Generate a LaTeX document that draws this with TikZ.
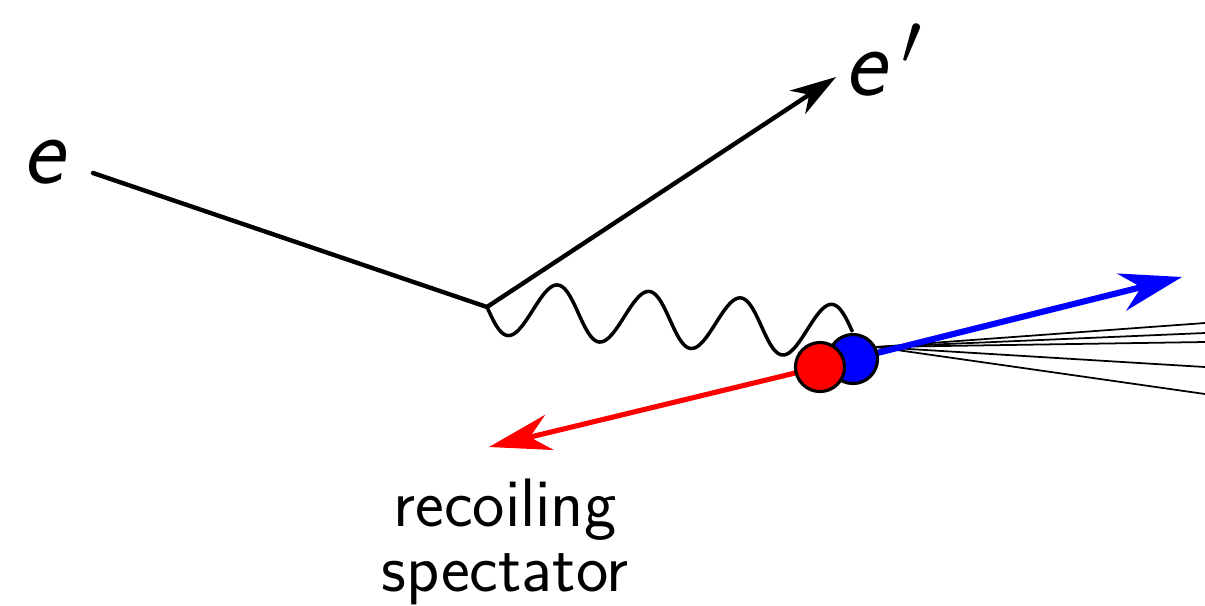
\documentclass[tikz,border=0pt]{standalone}
\usepackage{tikz}
\usetikzlibrary{arrows.meta,calc}

\begin{document}
\begin{tikzpicture}[x=0.01cm,y=-0.01cm,
    lepton/.style={line width=1.25pt},
    tip/.style={-{Stealth[length=#1,inset=0.14cm,width=0.28cm]}},
    nucleon/.style={circle,draw=black,line width=0.9pt,minimum size=0.49cm,inner sep=0pt},
    jet/.style={line width=0.5pt},
    photon/.style={line width=1pt},
    lbl/.style={font=\sffamily\itshape\fontsize{28}{32}\selectfont,inner sep=0pt}]
    \useasboundingbox (0,0) rectangle (1205,605);
    \coordinate (ein) at (93,173);
    \coordinate (v) at (487,307);
    \coordinate (eout) at (836,77);
    \coordinate (b) at (853,359);
    \coordinate (r) at (820,367);
    \coordinate (jet) at (876,347);
    \coordinate (pf) at (1182,277);
    \coordinate (ps) at (489,447);
    % electron lines
    \draw[lepton,line cap=round] (ein) -- (v);
    \draw[lepton,tip=0.46cm] (v) -- (eout);
    % final state
    \foreach \y in {323,333,342,367,394}
      \draw[jet] (jet) -- (1205,\y);
    \draw[blue,line width=1.75pt,-{Stealth[length=0.62cm,width=0.38cm,inset=0.2cm]}] (b) -- (pf);
    \draw[red,line width=1.45pt,-{Stealth[length=0.62cm,width=0.36cm,inset=0.2cm]}] (r) -- (ps);
    \node[nucleon,fill=blue] (nb) at (b) {};
    \node[nucleon,fill=red] (nr) at (r) {};
    % virtual photon
    \draw[photon,shift={(v)}] let \p1=($(nb.north)-(v)$), \n1={veclen(\x1,\y1)} in
      plot[variable=\t,domain=0:1,samples=161,smooth]
      ({\t*\x1+7.68pt*sin(1440*\t)*\y1/\n1},{\t*\y1-7.68pt*sin(1440*\t)*\x1/\n1});
    % labels
    \node[lbl] (le) at (43,162) {e};
    \node[lbl] (lep) at (884,60) {e\,$'$};
    \node[font=\sffamily\fontsize{19.5}{18.5}\selectfont,align=center,inner sep=0pt,anchor=north]
      (spec) at (505,478) {recoiling\\spectator};
\end{tikzpicture}
\end{document}
